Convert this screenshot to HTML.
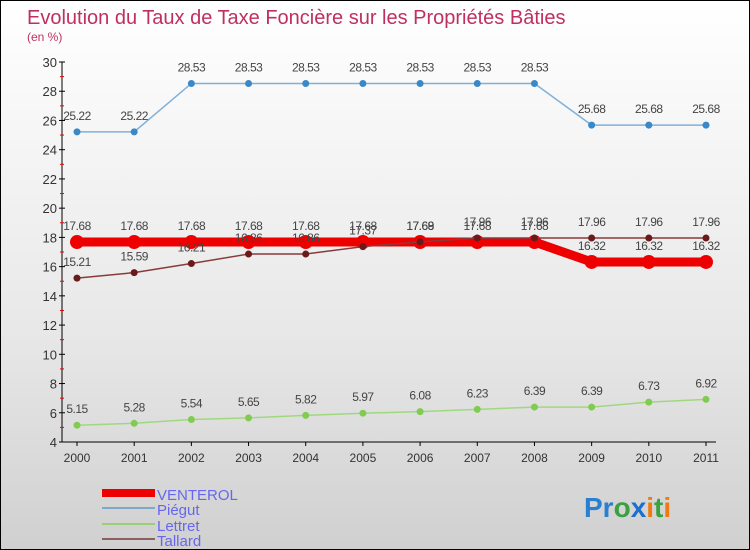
<!DOCTYPE html>
<html><head><meta charset="utf-8"><style>
body{margin:0}
#c{width:748px;height:548px;border:1px solid #000;background:linear-gradient(#ffffff,#e8e8e8 60%,#d0d0d0);position:relative;overflow:hidden;font-family:"Liberation Sans",sans-serif}
text{font-family:"Liberation Sans",sans-serif}
</style></head><body>
<div id="c">
<svg id="s" width="748" height="548">
<text x="26" y="23" font-size="20" fill="#c0305f">Evolution du Taux de Taxe Foncière sur les Propriétés Bâties</text>
<text x="26" y="40" font-size="12" fill="#c0305f">(en %)</text>
<g id="axes"></g><g id="series"></g>
<g>
<rect x="101" y="488" width="53" height="8" fill="#ee0000"/>
<text x="156" y="499" font-size="15" fill="#6666ee">VENTEROL</text>
<line x1="101" y1="507" x2="154" y2="507" stroke="#7fa8c8" stroke-width="2"/>
<text x="156" y="514" font-size="15" fill="#6666ee">Piégut</text>
<line x1="101" y1="523" x2="154" y2="523" stroke="#99d077" stroke-width="2"/>
<text x="156" y="530" font-size="15" fill="#6666ee">Lettret</text>
<line x1="101" y1="538" x2="154" y2="538" stroke="#8a6060" stroke-width="2"/>
<text x="156" y="545" font-size="15" fill="#6666ee">Tallard</text>
</g>
<g font-size="28" font-weight="bold">
<text x="583" y="516"><tspan fill="#2a7fd0">Pr</tspan><tspan fill="#3aa040">o</tspan><tspan fill="#1a6fd0">x</tspan><tspan fill="#f07a10">i</tspan><tspan fill="#3aa040">t</tspan><tspan fill="#f07a10">i</tspan></text>
</g>
</svg>
</div>
<script>
const years=["2000","2001","2002","2003","2004","2005","2006","2007","2008","2009","2010","2011"];
const venterol=[17.68,17.68,17.68,17.68,17.68,17.68,17.68,17.68,17.68,16.32,16.32,16.32];
const piegut=[25.22,25.22,28.53,28.53,28.53,28.53,28.53,28.53,28.53,25.68,25.68,25.68];
const lettret=[5.15,5.28,5.54,5.65,5.82,5.97,6.08,6.23,6.39,6.39,6.73,6.92];
const tallard=[15.21,15.59,16.21,16.86,16.86,17.37,17.69,17.96,17.96,17.96,17.96,17.96];
const yTicks=[4,6,8,10,12,14,16,18,20,22,24,26,28,30];
const NS="http://www.w3.org/2000/svg";
const X=i=>76+i*(705-76)/(years.length-1);
const Y=v=>441-(v-4)*(441-61)/26;
function mk(t,a,p){const e=document.createElementNS(NS,t);for(const k in a)e.setAttribute(k,a[k]);p.appendChild(e);return e;}
const ax=document.getElementById('axes');
let l=mk('line',{x1:61,y1:Y(30),x2:61,y2:Y(4),stroke:'#000'},ax);


l=mk('line',{x1:61,y1:Y(4),x2:X(11)+10,y2:Y(4),stroke:'#000'},ax);


yTicks.forEach(v=>{
 mk('line',{x1:58,x2:64,y1:Y(v),y2:Y(v),stroke:'#000'},ax);
 if(v<30)mk('line',{x1:59,x2:63,y1:Y(v+1),y2:Y(v+1),stroke:'#e00'},ax);
 const t=mk('text',{x:56,y:Y(v)+5,'font-size':13,'text-anchor':'end',fill:'#333'},ax);
 t.textContent=v;
 
 
});
years.forEach((y,i)=>{
 mk('line',{x1:X(i),x2:X(i),y1:Y(4),y2:Y(4)+4,stroke:'#000'},ax);
 const t=mk('text',{x:X(i),y:Y(4)+20,'font-size':12,'text-anchor':'middle',fill:'#333'},ax);
 t.textContent=y;
 
 
});
const sg=document.getElementById('series');
function series(name,vals,col,dot,w,r){
 const g=mk('g',{},sg);
 
 
 const p=mk('polyline',{points:vals.map((v,i)=>X(i)+','+Y(v)).join(' '),fill:'none',stroke:col,'stroke-width':w},g);
 
 
 vals.forEach((v,i)=>{
  const c=mk('circle',{cx:X(i),cy:Y(v),r:r,fill:dot},g);
  
  
  const t=mk('text',{x:X(i),y:Y(v)-12,'font-size':12,'text-anchor':'middle',fill:'#444','letter-spacing':'-0.5'},g);
  t.textContent=v.toFixed(2);
  
  
 });
}
series('piegut',piegut,'#7fb0d8','#3a88c8',1.5,3.5);
series('lettret',lettret,'#a0d880','#80cc50',1.5,3.5);
series('venterol',venterol,'#ee0000','#ee0000',9,7);
series('tallard',tallard,'#8a3a3a','#6a1a1a',1.5,3.5);
</script>
</body></html>
